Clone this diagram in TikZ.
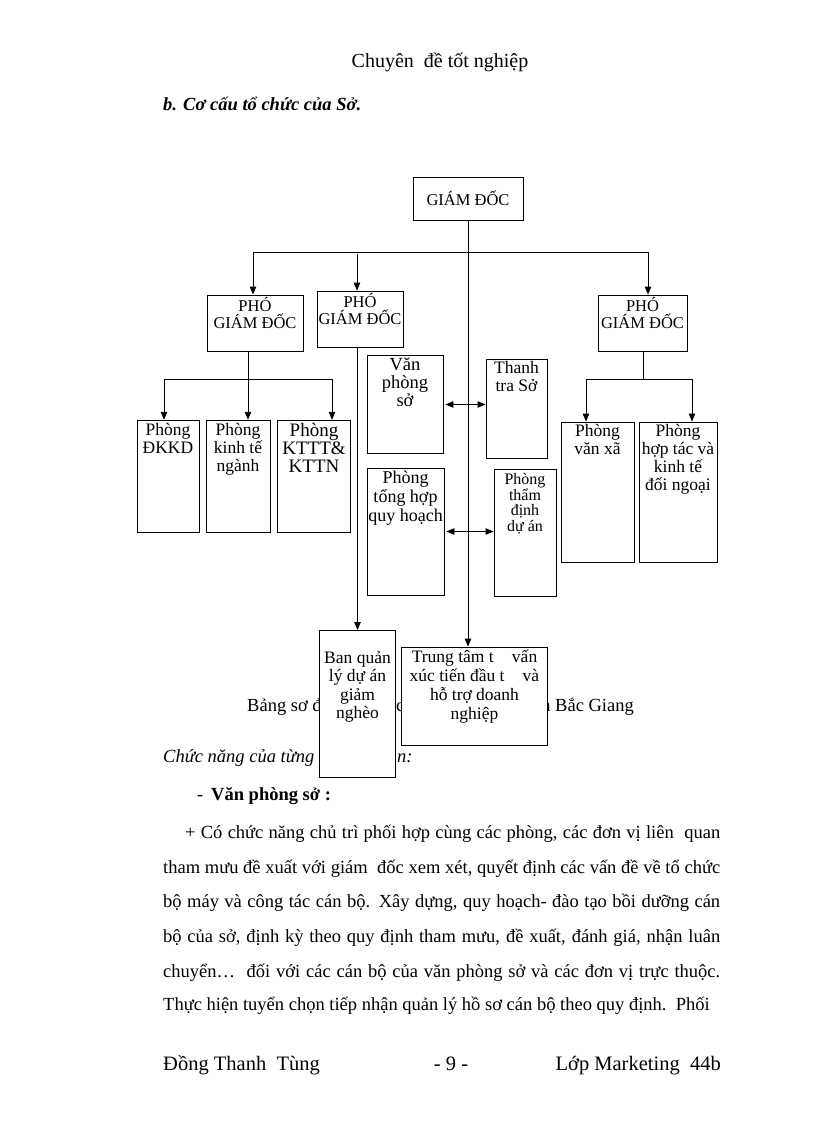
\documentclass[tikz,border=0pt]{standalone}
\usepackage{fontspec}
\setmainfont{Liberation Serif}
\usepackage{tikz}
\usetikzlibrary{arrows.meta}

\newcommand\bodyfont{\fontsize{18.5}{22}\selectfont}
\newcommand\boxfont{\fontsize{17.5}{18}\selectfont}

\begin{document}
\begin{tikzpicture}[x=1pt,y=-1pt,>={Triangle[length=8pt,width=6.5pt]},
	line/.style={line width=0.9pt},
	box/.style={draw,fill=white,line width=0.9pt,inner sep=0pt},
	boxtext/.style={anchor=north,align=center,inner sep=0pt,font=\boxfont},
	pgdtext/.style={anchor=north,align=center,inner sep=0pt,
		font=\fontsize{16.5}{17}\selectfont},
	bodytext/.style={anchor=base west,inner sep=0pt,font=\bodyfont}]
	\useasboundingbox (0,0) rectangle (816,1123);
	
	% page header
	\node[font=\fontsize{20}{22}\selectfont,anchor=base] (hdr) at (440,68) {Chuyên\ \ đề tốt nghiệp};
	\node[bodytext,font=\bodyfont\bfseries\itshape] (sec) at (163,111) {b. Cơ cấu tổ chức của Sở.};
	
	% text partly hidden by the boxes
	\node[bodytext] (capL) at (247,711) {Bảng sơ đ};
	\node[bodytext] (capM) at (396,711) {c};
	\node[bodytext,anchor=base east] (capR) at (634,711) {n Bắc Giang};
	\node[bodytext,font=\bodyfont\itshape] (funL) at (163,762) {Chức năng của từng};
	\node[bodytext,font=\bodyfont\itshape] (funR) at (397,762) {n:};
	
	% boxes
	\node[box,minimum width=110pt,minimum height=43pt] (gd) at (468,198.5) {};
	\node[font=\fontsize{16.5}{17}\selectfont] at (gd) {GIÁM ĐỐC};
	
	\node[box,minimum width=96pt,minimum height=56pt] (pgdA) at (255,323) {};
	\node[box,minimum width=86pt,minimum height=56pt] (pgdB) at (360,319) {};
	\node[box,minimum width=89pt,minimum height=56pt] (pgdC) at (642.5,323) {};
	\node[pgdtext] at ([yshift=-3pt]pgdA.north) {PHÓ\\GIÁM ĐỐC};
	\node[pgdtext] at ([yshift=-3pt]pgdB.north) {PHÓ\\GIÁM ĐỐC};
	\node[pgdtext] at ([yshift=-3pt]pgdC.north) {PHÓ\\GIÁM ĐỐC};
	
	\node[box,minimum width=62pt,minimum height=112.5pt] (dkkd) at (168,476.5) {};
	\node[box,minimum width=64pt,minimum height=112.5pt] (ktn) at (238,476.5) {};
	\node[box,minimum width=73pt,minimum height=112.5pt] (kttt) at (314,476.5) {};
	\node[boxtext] at ([yshift=-3pt]dkkd.north) {Phòng\\ĐKKD};
	\node[boxtext] at ([yshift=-3pt]ktn.north) {Phòng\\kinh tế\\ngành};
	\node[boxtext,font=\fontsize{19}{18}\selectfont] at ([yshift=-3pt]kttt.north) {Phòng\\KTTT\&\\KTTN};
	
	\node[box,minimum width=76pt,minimum height=98pt] (vps) at (405,404.5) {};
	\node[box,minimum width=61pt,minimum height=99pt] (ttra) at (516.5,408.5) {};
	\node[box,minimum width=77pt,minimum height=127pt] (thqh) at (405.5,531.5) {};
	\node[box,minimum width=62pt,minimum height=127pt] (tdda) at (525,532.5) {};
	\node[boxtext,font=\fontsize{18.5}{18}\selectfont] at ([yshift=-3pt]vps.north) {Văn\\phòng\\sở};
	\node[boxtext] at ([yshift=-3pt]ttra.north) {Thanh\\tra Sở};
	\node[boxtext,font=\fontsize{18}{19}\selectfont] at ([yshift=-3pt]thqh.north) {Phòng\\tổng hợp\\quy hoạch};
	\node[boxtext,font=\fontsize{16}{15.5}\selectfont] at ([yshift=-5pt]tdda.north) {Phòng\\thẩm\\định\\dự án};
	
	\node[box,minimum width=73pt,minimum height=140pt] (vx) at (597.5,492) {};
	\node[box,minimum width=78pt,minimum height=140pt] (htkt) at (678,492) {};
	\node[boxtext] at ([yshift=-3pt]vx.north) {Phòng\\văn xã};
	\node[boxtext] at ([yshift=-3pt]htkt.north) {Phòng\\hợp tác và\\kinh tế\\đối ngoại};
	
	\node[box,minimum width=76.5pt,minimum height=147pt] (bql) at (357.5,704) {};
	\node[box,minimum width=145.5pt,minimum height=98pt] (ttv) at (474.5,696) {};
	\node[boxtext,font=\fontsize{17.5}{18.5}\selectfont] at ([yshift=-21pt]bql.north) {Ban quản\\lý dự án\\giảm\\nghèo};
	\node[boxtext,font=\fontsize{17.5}{19}\selectfont] at ([yshift=-3pt]ttv.north)
		{Trung tâm t\hphantom{ư}\ \ vấn\\xúc tiến đầu t\hphantom{ư}\ \ và\\hỗ trợ doanh\\nghiệp};
	
	% connectors
	\coordinate (busA) at (253,252);
	\coordinate (busB) at (357,254);
	\coordinate (busC) at (648,252);
	\draw[line,->] (gd.south) -- (gd.south |- ttv.north);
	\draw[line] (busA) -- (busC);
	\draw[line,->] (busA) -- (busA |- pgdA.north);
	\draw[line,->] (busB) -- (busB |- pgdB.north);
	\draw[line,->] (busC) -- (busC |- pgdC.north);
	
	\coordinate (subA) at (248,379);
	\coordinate (subAl) at (164,379);
	\coordinate (subAr) at (332,379);
	\draw[line] (subA |- pgdA.south) -- (subA);
	\draw[line] (subAl) -- (subAr);
	\draw[line,->] (subAl) -- (subAl |- dkkd.north);
	\draw[line,->] (subA) -- (subA |- ktn.north);
	\draw[line,->] (subAr) -- (subAr |- kttt.north);
	
	\coordinate (subC) at (643,379);
	\coordinate (subCl) at (586,379);
	\coordinate (subCr) at (692,379);
	\draw[line] (subC |- pgdC.south) -- (subC);
	\draw[line] (subCl) -- (subCr);
	\draw[line,->] (subCl) -- (subCl |- vx.north);
	\draw[line,->] (subCr) -- (subCr |- htkt.north);
	
	\draw[line,->] (pgdB.south -| bql.north) -- (bql.north);
	\draw[line,<->] ([xshift=2pt]vps.east) -- (vps.east -| ttra.west);
	\draw[line,<->] ([xshift=2pt]thqh.east) -- (thqh.east -| tdda.west);
	
	% text below the chart
	\node[bodytext] (dash) at (197,800) {-};
	\node[bodytext,font=\bodyfont\bfseries] (vpsh) at (211,800) {Văn phòng sở :};
	\node[bodytext] (l1) at (185,838) {\makebox[535pt][s]{+ Có chức năng chủ trì phối hợp cùng các phòng, các đơn vị liên\ \ quan}};
	\node[bodytext] (l2) at (163,873) {\makebox[557pt][s]{tham mưu đề xuất với giám\ \ đốc xem xét, quyết định các vấn đề về tổ chức}};
	\node[bodytext] (l3) at (163,907) {\makebox[557pt][s]{bộ máy và công tác cán bộ. Xây dựng, quy hoạch- đào tạo bồi dưỡng cán}};
	\node[bodytext] (l4) at (163,942) {\makebox[557pt][s]{bộ của sở, định kỳ theo quy định tham mưu, đề xuất, đánh giá, nhận luân}};
	\node[bodytext] (l5) at (163,977) {\makebox[557pt][s]{chuyển…\ \ đối với các cán bộ của văn phòng sở và các đơn vị trực thuộc.}};
	\node[bodytext] (l6) at (163,1010) {Thực hiện tuyển chọn tiếp nhận quản lý hồ sơ cán bộ theo quy định.\ \ Phối};
	
	% footer
	\node[bodytext,font=\fontsize{20.5}{22}\selectfont] (ftL) at (163,1070) {Đồng Thanh\ \ Tùng};
	\node[bodytext,anchor=base,font=\fontsize{20.5}{22}\selectfont] (ftM) at (451,1070) {- 9 -};
	\node[bodytext,anchor=base east,font=\fontsize{20.5}{22}\selectfont] (ftR) at (721,1070) {Lớp Marketing\ \ 44b};
\end{tikzpicture}
\end{document}
